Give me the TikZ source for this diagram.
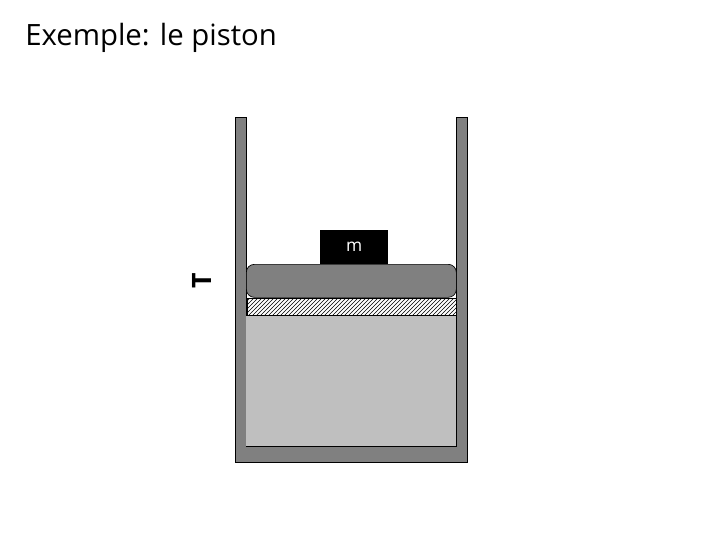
\documentclass[tikz,border=0pt]{standalone}
\usepackage{fontspec}
\setmainfont{Open Sans}
\usetikzlibrary{patterns}
\definecolor{wall}{gray}{0.5}
\definecolor{gas}{gray}{0.75}
\tikzset{wallfill/.style={fill=wall,draw=black,line width=0.5pt}}
\begin{document}
\begin{tikzpicture}[x=0.75pt,y=-0.75pt]
\useasboundingbox (0,0) rectangle (720,540);
\node[anchor=west,font=\fontsize{22}{26}\selectfont,inner sep=0] (title) at (25,38) {Exemple: le piston};
% container
\path[wallfill] (235,117) -- (246,117) -- (246,446) -- (456,446) -- (456,117) -- (467,117) -- (467,462) -- (235,462) -- cycle;
\fill[gas] (246,316) rectangle (456,446);
\node[draw=black,line width=0.5pt,pattern=north east lines,minimum width=209pt*0.75/0.75*0.75,minimum height=17*0.75pt,inner sep=0,anchor=north west] (hatch) at (247,298) {};
\node[wallfill,rounded corners=6pt,minimum width=210*0.75pt,minimum height=33*0.75pt,inner sep=0,anchor=north west] (piston) at (246,264) {};
\node[fill=black,minimum width=68*0.75pt,minimum height=34*0.75pt,inner sep=0,anchor=south west,text=white,font=\fontsize{13}{15}\selectfont] (mass) at (320,264) {m};
\node[rotate=90,font=\fontsize{20}{22}\selectfont\bfseries,inner sep=0] (T) at (202,281) {T};
\end{tikzpicture}
\end{document}
